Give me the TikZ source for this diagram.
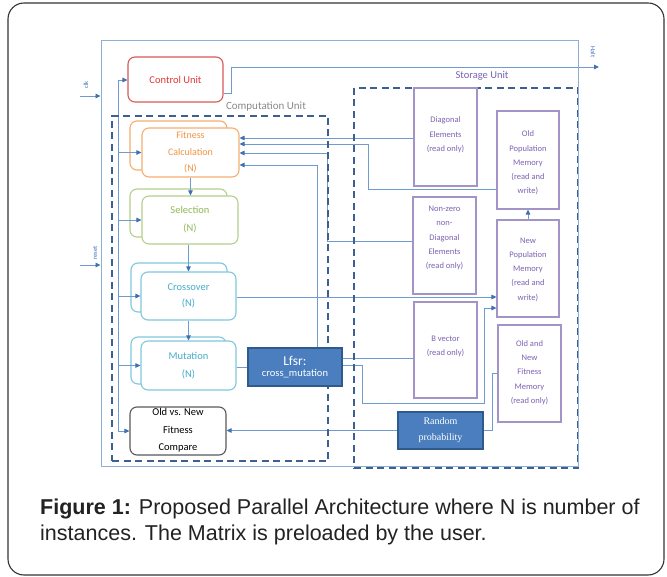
\documentclass[tikz,border=0pt]{standalone}
\usepackage{fontspec}
\setmainfont{Carlito}
\newfontfamily\capfont{Liberation Sans}
\newfontfamily\serfont{Liberation Serif}
\usetikzlibrary{arrows.meta}
\definecolor{wirec}{HTML}{6F9BCF}
\definecolor{tipc}{HTML}{3F72B5}
\definecolor{sysc}{HTML}{8DB0D8}
\definecolor{dashc}{HTML}{3E6090}
\definecolor{redc}{HTML}{D65A5A}
\definecolor{redt}{HTML}{E0383B}
\definecolor{orc}{HTML}{F6AE70}
\definecolor{ort}{HTML}{F39443}
\definecolor{grc}{HTML}{B5D08A}
\definecolor{grt}{HTML}{93B858}
\definecolor{cyc}{HTML}{7FC8DC}
\definecolor{cyt}{HTML}{45AECB}
\definecolor{memc}{HTML}{A394C8}
\definecolor{memt}{HTML}{7D62B3}
\definecolor{blkf}{HTML}{4A7EBF}
\definecolor{blkd}{HTML}{2E5A8C}
\definecolor{grayt}{HTML}{8A8A8A}
\definecolor{capt}{HTML}{222222}
\pgfdeclarelayer{base}
\pgfdeclarelayer{bg}
\pgfdeclarelayer{mid}
\pgfsetlayers{base,bg,mid,main}
\begin{document}
\begin{tikzpicture}[x=1pt,y=-1pt,
  wire/.style={draw=wirec, line width=0.9pt},
  arr/.style={wire, -{Triangle[length=5pt,width=4.5pt,color=tipc]}},
  ubox/.style={draw, rounded corners=7pt, line width=1.1pt, fill=white, align=center, inner sep=0pt},
  mem/.style={draw=memc, line width=1.1pt, fill=white, inner sep=0pt},
  memtxt/.style={text=memt, font=\fontsize{8.5}{14.3}\selectfont, align=center, inner sep=0pt},
  dbox/.style={draw=dashc, line width=2.2pt, dash pattern=on 7pt off 4.5pt, inner sep=0pt},
  blk/.style={fill=blkf, draw=blkd, line width=1.2pt, text=white, align=center, inner sep=0pt},
  tiny/.style={text=tipc, font=\fontsize{6.5}{7}\selectfont, inner sep=0pt}]
\useasboundingbox (0,0) rectangle (667,577);
\begin{pgfonlayer}{base}
\fill[white] (0,0) rectangle (667,577);
\end{pgfonlayer}
% outer frame and system boundary
\node[draw=black!80, line width=1.1pt, rounded corners=16pt, minimum width=656pt, minimum height=572pt, inner sep=0pt] (frame) at (336,289) {};
\node[draw=sysc, line width=1pt, minimum width=477pt, minimum height=425pt, inner sep=0pt] (sys) at (339.5,253.5) {};
% unit boxes
\node[ubox, draw=redc, text=redt, minimum width=95pt, minimum height=45pt, font=\fontsize{10.5}{12}\selectfont] (ctrl) at (175.5,79.5) {Control Unit};
\node[ubox, draw=orc, minimum width=97pt, minimum height=49pt] (fitB) at (178.5,145.5) {};
\node[ubox, draw=orc, text=ort, minimum width=97pt, minimum height=49pt, font=\fontsize{10}{16.5}\selectfont] (fit) at (190.5,152.5) {Fitness\\Calculation\\(N)};
\node[ubox, draw=grc, minimum width=97pt, minimum height=48pt] (selB) at (178.5,213) {};
\node[ubox, draw=grc, text=grt, minimum width=96pt, minimum height=48pt, font=\fontsize{10.5}{18}\selectfont] (sel) at (190,220) {\raisebox{-2pt}{Selection}\\\raisebox{-2pt}{(N)}};
\node[ubox, draw=cyc, minimum width=96pt, minimum height=49pt] (crsB) at (179,287.5) {};
\node[ubox, draw=cyc, text=cyt, minimum width=95pt, minimum height=48pt, font=\fontsize{10.5}{16}\selectfont] (crs) at (188.5,296) {\raisebox{-3pt}{Crossover}\\\raisebox{-3pt}{(N)}};
\node[ubox, draw=cyc, minimum width=95pt, minimum height=47pt] (mutB) at (178.5,360.5) {};
\node[ubox, draw=cyc, text=cyt, minimum width=95pt, minimum height=49pt, font=\fontsize{10.5}{18}\selectfont] (mut) at (188.5,365.5) {Mutation\\(N)};
\node[ubox, draw=black!65, text=black, minimum width=96pt, minimum height=48pt, font=\fontsize{10.5}{17.5}\selectfont] (cmp) at (178,431) {\raisebox{2.5pt}{Old vs. New}\\\raisebox{2.5pt}{Fitness}\\\raisebox{2.5pt}{Compare}};
\node[blk, minimum width=94pt, minimum height=38pt] (lfsr) at (295,367) {{\fontsize{13.5}{16}\selectfont Lfsr:}\\[-1pt]{\fontsize{10.5}{12}\selectfont cross\_mutation}};
\node[blk, minimum width=85pt, minimum height=37pt, font=\serfont\fontsize{10}{16}\selectfont] (rnd) at (440.5,430.5) {Random\\probability};
% storage boxes
\node[mem, minimum width=63pt, minimum height=98pt] (diag) at (445.5,137) {};
\node[memtxt] (diagT) at (445.5,135) {Diagonal\\Elements\\(read only)};
\node[mem, minimum width=62pt, minimum height=98pt] (oldpop) at (528,160) {};
\node[memtxt] (oldpopT) at (528,163) {Old\\Population\\Memory\\(read and\\write)};
\node[mem, minimum width=63pt, minimum height=97pt] (nonz) at (444.5,245.5) {};
\node[memtxt] (nonzT) at (444.5,238) {Non-zero\\non-\\Diagonal\\Elements\\(read only)};
\node[mem, minimum width=62pt, minimum height=97pt] (newpop) at (528,268.5) {};
\node[memtxt] (newpopT) at (528,269.5) {New\\Population\\Memory\\(read and\\write)};
\node[mem, minimum width=63pt, minimum height=96pt] (bvec) at (445.5,350) {};
\node[memtxt] (bvecT) at (445.5,346.5) {B vector\\(read only)};
\node[mem, minimum width=63pt, minimum height=97pt] (oldnew) at (529.5,373.5) {};
\node[memtxt] (oldnewT) at (529.5,372.5) {Old and\\New\\Fitness\\Memory\\(read only)};
% labels
\node[text=grayt, font=\fontsize{11}{13}\selectfont, inner sep=0pt] (cuLbl) at (266,107) {Computation Unit};
\node[text=memt, font=\fontsize{10.5}{12}\selectfont, inner sep=0pt] (suLbl) at (482,76) {Storage Unit};
\node[tiny, rotate=90] (clkL) at (86,85) {clk};
\node[tiny, rotate=90] (rstL) at (95,253) {reset};
\node[tiny, rotate=-90] (haltL) at (593,52) {Halt};
% caption
\node[anchor=base west, text=capt, font=\capfont\fontsize{21.5}{26}\selectfont, inner sep=0pt] (cap1) at (40,514) {\textbf{Figure 1:} Proposed Parallel Architecture where N is number of};
\node[anchor=base west, text=capt, font=\capfont\fontsize{21.5}{26}\selectfont, inner sep=0pt] (cap2) at (40,540) {instances. The Matrix is preloaded by the user.};
% arrows drawn over the stacked back boxes
\coordinate (busT) at (118,80);
\coordinate (busB) at (118,431);
\draw[arr] (busT |- fit.west) -- (fit.west);
\draw[arr] (busT |- sel.west) -- (sel.west);
\draw[arr] (busT |- crs.west) -- (crs.west);
\draw[arr] (busT |- mut.west) -- (mut.west);
\draw[arr] (fit.south) -- (fit.south |- sel.north);
\draw[arr] (crs.north |- sel.south) -- (crs.north);
\draw[arr] (crs.south) -- (crs.south |- mut.north);
% dashed unit boxes
\begin{pgfonlayer}{mid}
\node[dbox, minimum width=216pt, minimum height=345pt] (comp) at (220,288.5) {};
\node[dbox, minimum width=224pt, minimum height=380pt] (stor) at (466,278) {};
\end{pgfonlayer}
% connectors
\begin{pgfonlayer}{bg}
\coordinate (clk) at (80,96);
\coordinate (rst) at (80,265);
\draw[arr] (clk) -- (clk -| sys.west);
\draw[arr] (rst) -- (rst -| sys.west);
\draw[wire] (busT) -- (busB);
\draw[arr] (busT) -- (busT -| ctrl.west);
\draw[arr] (busB) -- (busB -| cmp.west);
\coordinate (halt) at (599,67);
\draw[arr] (ctrl.east |- 0,93) -| (231,67) -- (halt);
\draw[arr] (diag.west |- 0,138) -- (fit.east |- 0,138);
\draw[arr] (oldpop.west |- 0,189) -| (368,144) -- (fit.east |- 0,144);
\draw[arr] (nonz.west |- 0,241) -| (327,153) -- (fit.east |- 0,153);
\draw[arr] (lfsr.north -| 317,0) |- (fit.east |- 0,165);
\draw[arr] (crs.east |- 0,297) -- (newpop.west |- 0,297);
\draw[wire] (mut.east |- lfsr.west) -- (lfsr.west);
\draw[wire] (lfsr.east |- 0,358) -- (bvec.west |- 0,358);
\draw[arr] (lfsr.east |- 0,365) -| (362,403) -| (484,308) -- (newpop.west |- 0,308);
\draw[arr] (rnd.west) -- (rnd.west -| cmp.east);
\draw[wire] (rnd.east) -| (492,373) -- (oldnew.west |- 0,373);
\draw[arr] (newpop.north) -- (newpop.north |- oldpop.south);
\end{pgfonlayer}
\end{tikzpicture}
\end{document}
